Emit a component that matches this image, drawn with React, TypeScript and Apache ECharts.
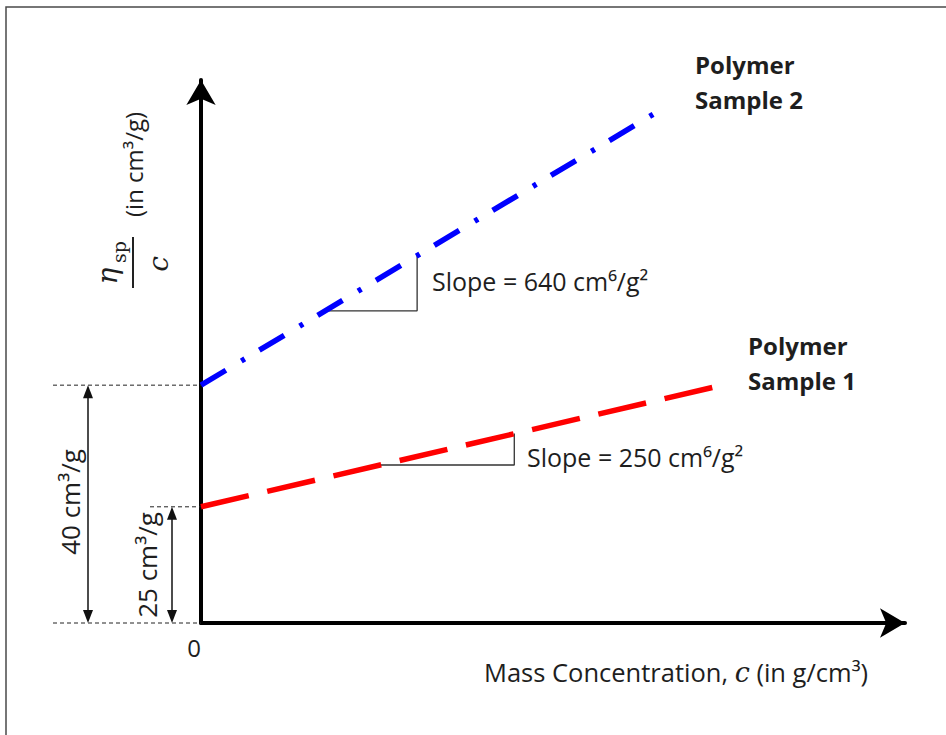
import React, { useEffect, useRef } from 'react';
import * as echarts from 'echarts';

// Schematic axis extents (arbitrary units, the sketch is not to scale)
const xExtent = [0, 100];
const yExtent = [0, 100];

// Line endpoints (schematic units)
const sample1X = [0, 73.4];
const sample1Y = [21.4, 43.6];
const sample2X = [0, 64.5];
const sample2Y = [43.8, 93.9];

// Slope triangles (schematic units)
const tri1X = [25.4, 44.5, 44.5];
const tri1Y = [29.1, 29.1, 34.9];
const tri2X = [17.6, 30.7, 30.7];
const tri2Y = [57.5, 57.5, 67.7];

// Labelled values
const interceptLabels = ['25 cm³/g', '40 cm³/g'];
const slopeLabels = ['Slope = 250 cm⁶/g²', 'Slope = 640 cm⁶/g²'];
const sampleNames = ['Polymer\nSample 1', 'Polymer\nSample 2'];
const xTickLabels = ['0'];

const zip = (xs: number[], ys: number[]) => xs.map((x, i) => [x, ys[i]]);

const FONT = "'Open Sans', sans-serif";
const SERIF = "'DejaVu Serif', serif";
const TXT = '#1e1e1e';

export default function App() {
  const ref = useRef<HTMLDivElement>(null);

  useEffect(() => {
    const chart = echarts.init(ref.current!, null, { renderer: 'svg' });

    const axisLine = {
      show: true,
      onZero: false,
      symbol: ['none', 'arrow'],
      symbolSize: [22, 25],
      lineStyle: { color: '#000', width: 4, cap: 'round' },
    };

    const option: any = {
      animation: false,
      backgroundColor: '#fff',
      grid: { left: 201, top: 80, width: 704, height: 543 },
      xAxis: {
        type: 'value',
        min: xExtent[0],
        max: xExtent[1],
        axisLine,
        axisTick: { show: false },
        splitLine: { show: false },
        axisLabel: {
          show: true,
          formatter: (v: number) => (v === 0 ? xTickLabels[0] : ''),
          fontFamily: FONT,
          fontSize: 24,
          color: TXT,
          margin: 12,
          padding: [0, 14, 0, 0],
        },
      },
      yAxis: {
        type: 'value',
        min: yExtent[0],
        max: yExtent[1],
        axisLine,
        axisTick: { show: false },
        splitLine: { show: false },
        axisLabel: { show: false },
      },
      series: [
        {
          name: 'Polymer Sample 1',
          type: 'line',
          data: zip(sample1X, sample1Y),
          showSymbol: false,
          symbol: 'none',
          z: 3,
          lineStyle: { color: '#ff0000', width: 5.5, type: [49, 19], cap: 'butt' },
        },
        {
          name: 'Polymer Sample 2',
          type: 'line',
          data: zip(sample2X, sample2Y),
          showSymbol: false,
          symbol: 'none',
          z: 3,
          lineStyle: { color: '#0000ff', width: 5.5, type: [29, 18, 4, 17], cap: 'butt' },
        },
        {
          name: 'slope1',
          type: 'line',
          data: zip(tri1X, tri1Y),
          showSymbol: false,
          symbol: 'none',
          z: 2,
          lineStyle: { color: '#333', width: 1.3 },
        },
        {
          name: 'slope2',
          type: 'line',
          data: zip(tri2X, tri2Y),
          showSymbol: false,
          symbol: 'none',
          z: 2,
          lineStyle: { color: '#333', width: 1.3 },
        },
      ],
    };
    chart.setOption(option);

    const px = (x: number, y: number) =>
      chart.convertToPixel({ gridIndex: 0 }, [x, y]) as number[];
    const o = px(0, 0);
    const p1 = px(sample1X[0], sample1Y[0]);
    const p2 = px(sample2X[0], sample2Y[0]);

    const guide = (x1: number, y: number) => ({
      type: 'line',
      shape: { x1, y1: y, x2: o[0], y2: y },
      style: { stroke: '#222', lineWidth: 1, lineDash: [4, 3] },
      z: 1,
    });
    const dimArrow = (x: number, yTop: number, yBot: number) => [
      {
        type: 'line',
        shape: { x1: x, y1: yTop + 12, x2: x, y2: yBot - 12 },
        style: { stroke: '#111', lineWidth: 1.5 },
      },
      {
        type: 'polygon',
        shape: { points: [[x, yTop], [x - 5, yTop + 13], [x + 5, yTop + 13]] },
        style: { fill: '#111' },
      },
      {
        type: 'polygon',
        shape: { points: [[x, yBot], [x - 5, yBot - 13], [x + 5, yBot - 13]] },
        style: { fill: '#111' },
      },
    ];
    const rotText = (text: string, x: number, y: number) => ({
      type: 'text',
      x,
      y,
      rotation: Math.PI / 2,
      style: {
        text,
        fill: TXT,
        fontFamily: FONT,
        fontSize: 26,
        align: 'center',
        verticalAlign: 'middle',
      },
    });
    const plainText = (text: string, x: number, y: number, bold = false, size = 24) => ({
      type: 'text',
      x,
      y,
      style: {
        text,
        fill: TXT,
        fontFamily: FONT,
        fontSize: size,
        fontWeight: bold ? 'bold' : 'normal',
        lineHeight: 35,
        align: 'left',
        verticalAlign: 'middle',
      },
    });

    const graphic: any[] = [
      {
        type: 'rect',
        shape: { x: 6, y: 7, width: 1000, height: 1000 },
        style: { fill: 'none', stroke: '#4a4a4a', lineWidth: 1.5 },
        silent: true,
      },
      guide(53, o[1]),
      guide(53, p2[1]),
      guide(150, p1[1]),
      ...dimArrow(88, p2[1], o[1]),
      ...dimArrow(172, p1[1], o[1]),
      rotText(interceptLabels[1], 70, 502),
      rotText(interceptLabels[0], 147, 565),
      // y axis title: eta_sp / c (in cm³/g)
      {
        type: 'group',
        x: 133,
        y: 288,
        rotation: Math.PI / 2,
        children: [
          {
            type: 'line',
            shape: { x1: 0, y1: 0, x2: 51, y2: 0 },
            style: { stroke: '#222', lineWidth: 2 },
          },
          {
            type: 'text',
            x: 12,
            y: -26,
            style: {
              text: 'η',
              fill: TXT,
              fontFamily: SERIF,
              fontStyle: 'italic',
              fontSize: 28,
              align: 'center',
              verticalAlign: 'middle',
            },
          },
          {
            type: 'text',
            x: 36,
            y: -14,
            style: {
              text: 'sp',
              fill: TXT,
              fontFamily: SERIF,
              fontSize: 19,
              align: 'center',
              verticalAlign: 'middle',
            },
          },
          {
            type: 'text',
            x: 24,
            y: 25,
            style: {
              text: 'c',
              fill: TXT,
              fontFamily: SERIF,
              fontStyle: 'italic',
              fontSize: 28,
              align: 'center',
              verticalAlign: 'middle',
            },
          },
          {
            type: 'text',
            x: 71,
            y: 0,
            style: {
              text: '(in cm³/g)',
              fill: TXT,
              fontFamily: FONT,
              fontSize: 24,
              align: 'left',
              verticalAlign: 'middle',
            },
          },
        ],
      },
      plainText(sampleNames[1], 695, 82, true),
      plainText(sampleNames[0], 748, 363, true),
      plainText(slopeLabels[1], 432, 281, false, 25),
      plainText(slopeLabels[0], 527, 457, false, 25),
      {
        type: 'text',
        x: 484,
        y: 672,
        style: {
          text: 'Mass Concentration, {it|c} (in g/cm³)',
          fill: TXT,
          fontFamily: FONT,
          fontSize: 25.5,
          align: 'left',
          verticalAlign: 'middle',
          rich: {
            it: {
              fontFamily: SERIF,
              fontStyle: 'italic',
              fontSize: 27,
              fill: TXT,
            },
          },
        },
      },
    ];
    chart.setOption({ graphic });

    return () => chart.dispose();
  }, []);

  return (
    <div
      ref={ref}
      style={{ position: 'absolute', left: 0, top: 0, width: 946, height: 735, background: '#fff' }}
    />
  );
}
